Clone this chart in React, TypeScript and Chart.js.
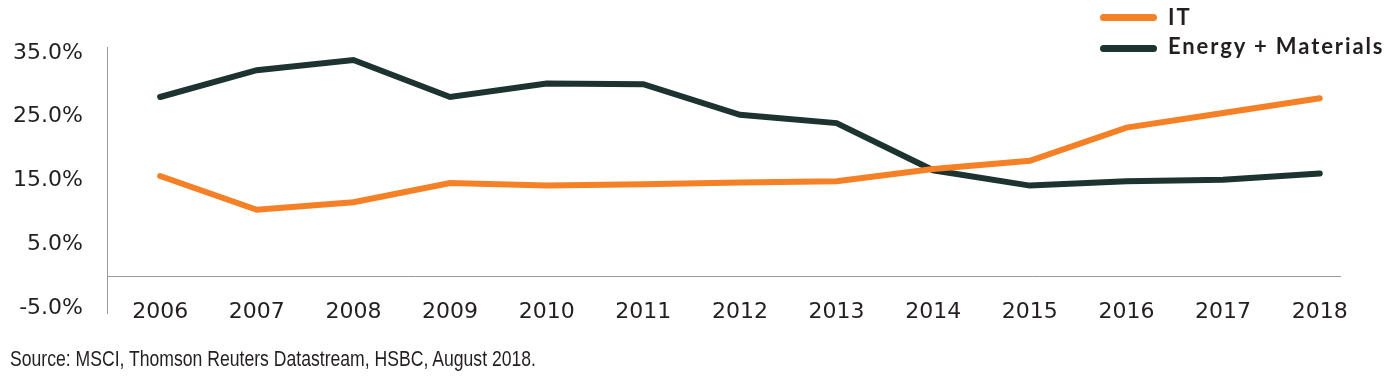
import React, { useEffect, useRef } from "react";
import { Chart, registerables } from "chart.js";

Chart.register(...registerables);

const years = [2006, 2007, 2008, 2009, 2010, 2011, 2012, 2013, 2014, 2015, 2016, 2017, 2018];
const itValues = [15.7, 10.4, 11.6, 14.6, 14.2, 14.4, 14.7, 14.9, 16.8, 18.1, 23.3, 25.6, 27.9];
const energyMaterialsValues = [28.1, 32.3, 33.9, 28.1, 30.2, 30.1, 25.3, 24.0, 16.6, 14.2, 14.9, 15.1, 16.1];
const yTickValues = [-5, 5, 15, 25, 35];
const seriesNames = ["IT", "Energy + Materials"];
const seriesColors = ["#F58025", "#1D3330"];
const sourceText = "Source: MSCI, Thomson Reuters Datastream, HSBC, August 2018.";

const TEXT = "#231F20";
const AXIS = "#9A9A9A";
const TICK_FONT = { family: "'DejaVu Sans', sans-serif", size: 22 };

const axisLinePlugin = {
  id: "axisLine",
  beforeDatasetsDraw(chart: any) {
    const { ctx, chartArea } = chart;
    const y0 = Math.round(chart.scales.y.getPixelForValue(0)) + 0.5;
    ctx.save();
    ctx.strokeStyle = AXIS;
    ctx.lineWidth = 1;
    ctx.beginPath();
    ctx.moveTo(chartArea.left + 0.5, chartArea.top - 6);
    ctx.lineTo(chartArea.left + 0.5, chartArea.bottom + 6);
    ctx.moveTo(chartArea.left, y0);
    ctx.lineTo(chartArea.right, y0);
    ctx.stroke();
    ctx.restore();
  },
};

export default function App() {
  const ref = useRef<HTMLCanvasElement | null>(null);

  useEffect(() => {
    if (!ref.current) return;
    const chart = new Chart(ref.current, {
      type: "line",
      data: {
        labels: years,
        datasets: [
          {
            label: seriesNames[0],
            data: itValues,
            borderColor: seriesColors[0],
            backgroundColor: seriesColors[0],
            borderWidth: 6,
            pointRadius: 0,
            tension: 0,
            borderCapStyle: "round",
            borderJoinStyle: "miter",
          },
          {
            label: seriesNames[1],
            data: energyMaterialsValues,
            borderColor: seriesColors[1],
            backgroundColor: seriesColors[1],
            borderWidth: 6,
            pointRadius: 0,
            tension: 0,
            borderCapStyle: "round",
            borderJoinStyle: "miter",
          },
        ],
      },
      options: {
        responsive: false,
        animation: false,
        layout: { padding: { top: 53, right: 53, bottom: 29, left: 0 } },
        plugins: {
          legend: { display: false },
          tooltip: { enabled: false },
          title: { display: false },
        },
        scales: {
          x: {
            type: "linear",
            min: years[0] - 0.55,
            max: years[years.length - 1] + 0.22,
            afterBuildTicks: (s: any) => {
              s.ticks = years.map((v) => ({ value: v }));
            },
            afterFit: (s: any) => {
              s.height = 40;
            },
            ticks: {
              callback: (v: any) => String(v),
              font: TICK_FONT,
              color: TEXT,
              mirror: true,
              padding: -17,
              maxRotation: 0,
              autoSkip: false,
            },
            grid: { display: false, drawTicks: false, tickLength: 0 },
            border: { display: false },
          },
          y: {
            min: -5,
            max: 35,
            afterBuildTicks: (s: any) => {
              s.ticks = yTickValues.map((v) => ({ value: v }));
            },
            afterFit: (s: any) => {
              s.width = 107;
            },
            ticks: {
              callback: (v: any) => Number(v).toFixed(1) + "%",
              font: TICK_FONT,
              color: TEXT,
              padding: 24,
            },
            grid: { display: false, drawTicks: false, tickLength: 0 },
            border: { display: false },
          },
        },
      },
      plugins: [axisLinePlugin],
    });
    return () => chart.destroy();
  }, []);

  const legendTops = [3.7, 33.2];
  const swatchCenters = [17, 48];

  return (
    <div style={{ position: "absolute", left: 0, top: 0, width: 1394, height: 377, background: "#fff" }}>
      <canvas ref={ref} width={1394} height={377} style={{ display: "block" }} />
      {seriesNames.map((name, i) => (
        <React.Fragment key={name}>
          <div
            style={{
              position: "absolute",
              left: 1100,
              top: swatchCenters[i] - 3.5,
              width: 57,
              height: 7,
              borderRadius: 4,
              background: seriesColors[i],
            }}
          />
          <div
            style={{
              position: "absolute",
              left: 1168,
              top: legendTops[i],
              fontFamily: "Lato, sans-serif",
              fontWeight: 700,
              fontSize: 22,
              lineHeight: "26.4px",
              letterSpacing: "1.9px",
              color: TEXT,
              whiteSpace: "nowrap",
            }}
          >
            {name}
          </div>
        </React.Fragment>
      ))}
      <div
        style={{
          position: "absolute",
          left: 10,
          top: 346,
          fontFamily: "'Liberation Sans', Arial, sans-serif",
          fontSize: 22,
          lineHeight: "26px",
          color: TEXT,
          whiteSpace: "nowrap",
          transform: "scaleX(0.8)",
          transformOrigin: "0 0",
        }}
      >
        {sourceText}
      </div>
    </div>
  );
}
